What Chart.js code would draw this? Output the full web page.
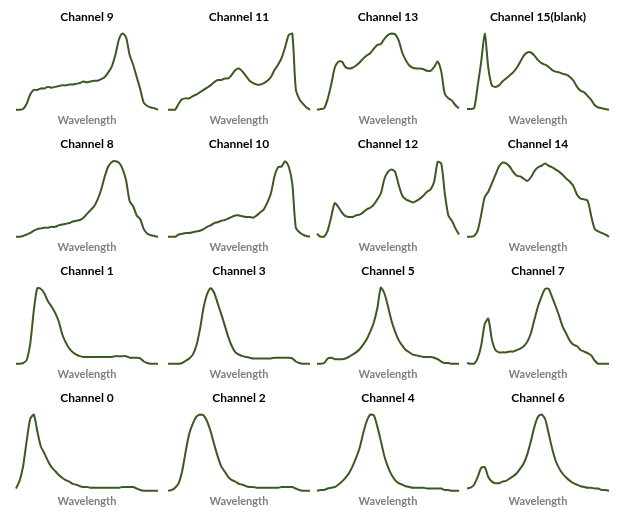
<!DOCTYPE html>
<html>
<head>
<meta charset="utf-8">
<script src="https://cdn.jsdelivr.net/npm/chart.js@4"></script>
<style>
  html, body { margin: 0; padding: 0; background: #ffffff; }
  #wrap { position: relative; width: 618px; height: 510px; overflow: hidden; }
  #wrap canvas { position: absolute; }
</style>
</head>
<body>
<div id="wrap"></div>
<script>
// ---- data (normalised intensity) ----
const wavelengths = Array.from({length: 41}, (_, i) => String(i)); // index labels (hidden)
const xAxisLabel = "Wavelength";

const channel9  = [0,0,1,8,20,26,26,28,28,30,29,30,31,32,32,33,33,34,35,37,36,37,38,38,40,43,49,57,72,92,100,95,72,59,43,27,9,5,3,2,0];
const channel11 = [0,0,0,8,14,15,15,18,20,23,26,29,32,36,39,39,41,41,46,52,54,50,44,38,35,33,33,35,38,43,52,59,68,82,98,100,27,14,8,3,0];
const channel13 = [0,1,2,14,33,55,63,63,56,54,55,58,62,67,71,74,80,85,86,93,98,100,99,91,75,65,58,55,54,54,53,51,51,56,63,50,21,15,12,6,2];
const channel15 = [1,1,2,31,63,100,55,32,30,32,37,41,45,49,55,63,71,75,75,71,65,61,59,56,52,50,49,47,46,43,38,30,25,23,18,13,6,3,2,1,0];

const channel8  = [0,0,1,3,5,8,10,11,12,12,13,13,15,16,17,18,20,21,22,25,30,35,40,49,62,79,92,98,99,97,89,74,47,40,28,23,10,4,2,1,0];
const channel10 = [0,0,0,3,4,5,5,6,7,8,10,13,15,18,19,21,22,24,26,28,28,27,26,26,25,28,32,36,45,57,79,91,92,99,92,70,12,6,3,1,0];
const channel12 = [4,0,0,8,26,44,39,32,27,26,26,28,29,32,36,38,42,49,57,76,85,88,85,68,54,49,47,45,47,50,54,59,62,72,98,96,57,28,21,11,3];
const channel14 = [0,0,1,8,29,52,59,70,81,92,97,96,92,85,80,79,76,73,78,86,91,93,96,93,91,88,85,81,76,72,66,55,50,49,47,27,10,7,5,3,0];

const channel1  = [0,0,1,5,26,69,99,98,92,82,75,67,56,39,28,20,15,12,10,9,9,9,9,9,9,9,9,9,10,10,10,10,8,8,8,7,3,1,0,0,0];
const channel3  = [0,0,0,0,1,4,7,12,24,45,73,91,99,93,79,65,50,35,23,15,12,10,9,8,7,7,7,7,7,7,8,8,8,8,8,7,3,1,0,0,0];
const channel5  = [0,0,1,7,8,6,6,6,7,9,12,15,19,25,32,42,54,73,100,92,75,56,42,31,24,18,15,12,11,10,9,9,9,8,6,3,1,1,0,0,0];
const channel7  = [1,0,0,7,24,52,59,32,18,15,15,15,16,16,18,20,23,29,40,58,75,88,98,98,87,75,62,48,39,30,25,23,18,16,14,11,4,0,0,0,0];

const channel0  = [3,13,32,65,94,100,78,58,49,39,31,26,21,17,14,12,9,8,6,5,5,4,4,4,4,4,4,4,4,4,5,5,5,5,3,1,0,0,0,0,0];
const channel2  = [0,1,4,10,26,52,75,88,97,100,99,91,78,61,45,32,25,18,14,12,9,8,6,5,5,4,4,4,4,4,4,4,5,5,5,5,3,1,0,0,0];
const channel4  = [0,1,1,3,4,5,8,12,17,23,32,43,56,75,91,100,99,84,65,45,31,21,14,10,8,6,5,4,4,4,4,3,3,3,3,3,1,1,0,0,0];
const channel6  = [3,4,8,18,30,31,18,12,10,10,12,13,16,19,23,29,36,48,65,84,97,100,94,75,55,39,29,22,17,13,10,8,6,5,4,4,3,3,1,1,0];

// grid order, row by row
const panelTitles = [
  "Channel 9", "Channel 11", "Channel 13", "Channel 15(blank)",
  "Channel 8", "Channel 10", "Channel 12", "Channel 14",
  "Channel 1", "Channel 3", "Channel 5", "Channel 7",
  "Channel 0", "Channel 2", "Channel 4", "Channel 6"
];
const panelSeries = [
  channel9, channel11, channel13, channel15,
  channel8, channel10, channel12, channel14,
  channel1, channel3, channel5, channel7,
  channel0, channel2, channel4, channel6
];

// ---- layout ----
const colLeft = [14, 166, 315, 465];
const rowHeight = 127;
const canvasW = 146, canvasH = 127;
const lineColor = '#3b5a22';

Chart.defaults.font.family = "Lato, 'Open Sans', sans-serif";

const wrap = document.getElementById('wrap');
panelSeries.forEach((series, i) => {
  const row = Math.floor(i / 4), col = i % 4;
  const cv = document.createElement('canvas');
  cv.width = canvasW; cv.height = canvasH;
  cv.style.left = colLeft[col] + 'px';
  cv.style.top = (row * rowHeight) + 'px';
  cv.style.width = canvasW + 'px';
  cv.style.height = canvasH + 'px';
  wrap.appendChild(cv);

  new Chart(cv, {
    type: 'line',
    data: {
      labels: wavelengths,
      datasets: [{
        data: series,
        borderColor: lineColor,
        borderWidth: 2,
        pointRadius: 0,
        tension: 0.25,
        fill: false,
        clip: false
      }]
    },
    options: {
      responsive: false,
      animation: false,
      events: [],
      layout: { padding: { left: 2, right: 2, top: 0, bottom: 0 } },
      plugins: {
        legend: { display: false },
        tooltip: { enabled: false },
        title: {
          display: true,
          text: panelTitles[i],
          color: '#000000',
          font: { size: 12, weight: 'bold' },
          padding: { top: 10, bottom: 9 }
        }
      },
      scales: {
        x: {
          type: 'category',
          offset: false,
          ticks: { display: false },
          grid: { display: false, drawTicks: false },
          border: { display: false },
          title: {
            display: true,
            text: xAxisLabel,
            color: '#7f7f7f',
            font: { size: 11, weight: 'bold' },
            padding: { top: 4, bottom: 0 }
          }
        },
        y: {
          display: false,
          min: 0,
          max: 100
        }
      }
    }
  });
});
</script>
</body>
</html>
